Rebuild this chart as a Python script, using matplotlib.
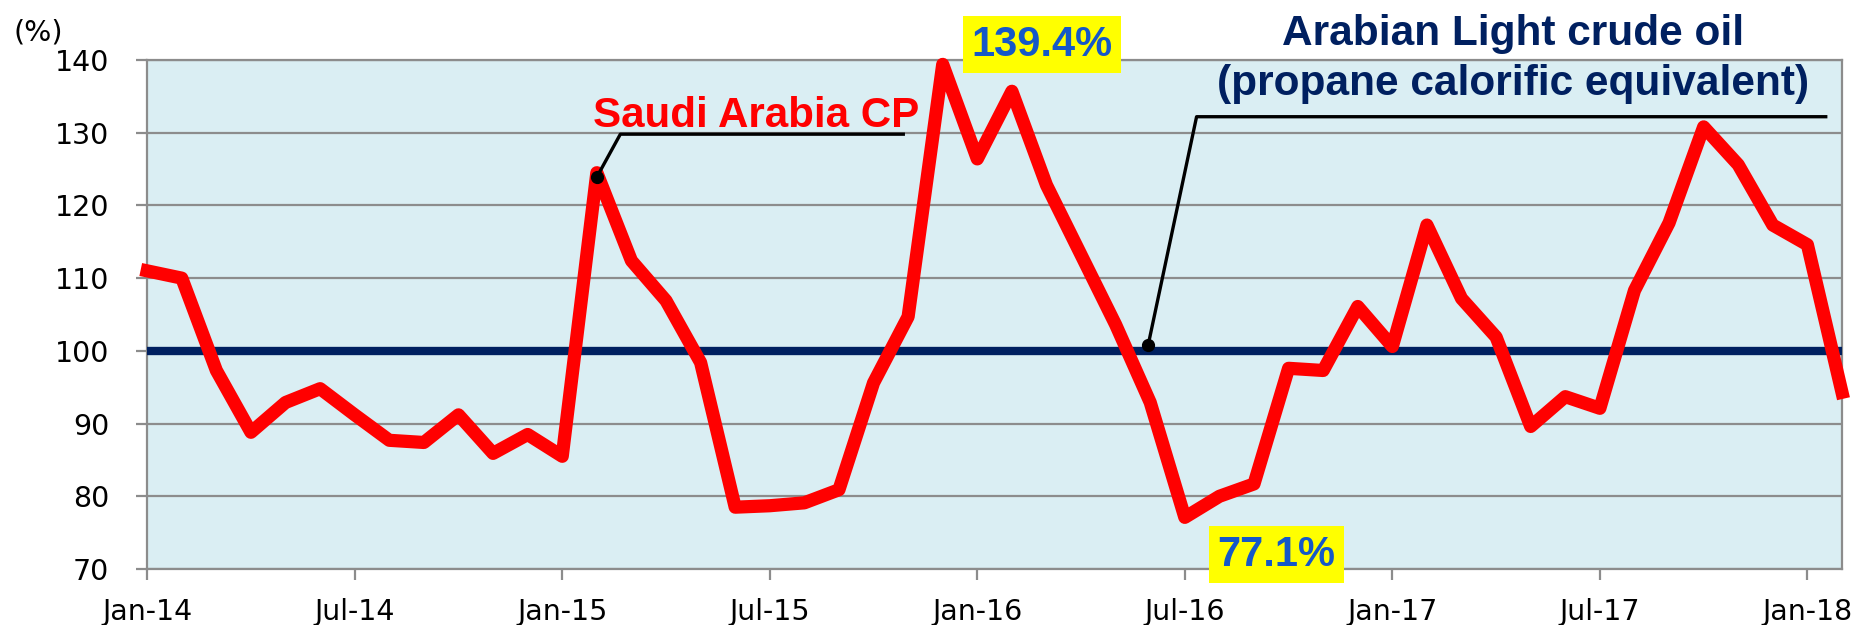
import numpy as np
import matplotlib.pyplot as plt

# monthly ratio of Saudi CP to Arabian Light (propane calorific equivalent), Jan-14 .. Feb-18
cp_ratio = [111.0, 110.0, 97.3, 88.8, 92.9, 94.8, 91.2, 87.7, 87.4, 91.2, 85.9, 88.5,
            85.5, 124.5, 112.4, 106.9, 98.4, 78.5, 78.7, 79.1, 80.9, 95.6, 104.7, 139.4,
            126.4, 135.7, 122.8, 113.2, 103.6, 92.9, 77.1, 80.0, 81.7, 97.6, 97.3, 106.1,
            100.6, 117.3, 107.2, 101.9, 89.6, 93.7, 92.1, 108.3, 117.6, 130.8, 125.6, 117.3,
            114.6, 94.3]
crude_ratio = [100.0] * len(cp_ratio)
tick_pos = [0, 6, 12, 18, 24, 30, 36, 42, 48]
tick_labels = ['Jan-14', 'Jul-14', 'Jan-15', 'Jul-15', 'Jan-16',
               'Jul-16', 'Jan-17', 'Jul-17', 'Jan-18']
yticks = [70, 80, 90, 100, 110, 120, 130, 140]

RED = '#ff0000'
NAVY = '#002060'
BLUE = '#1558c8'
GRID = '#8c8c8c'
BOLD = ['Liberation Sans', 'DejaVu Sans']

fig = plt.figure(figsize=(18.63, 6.25), dpi=100)
ax = fig.add_axes([0.07901, 0.0896, 0.90971, 0.8144])
ax.set_facecolor('#daeef3')

x = np.arange(len(cp_ratio))
ax.plot(x, crude_ratio, color=NAVY, lw=6, zorder=2.6)
ax.plot(x, cp_ratio, color=RED, lw=9.5, solid_joinstyle='round', zorder=2.7, clip_on=False)

ax.set_xlim(0, 49)
ax.set_ylim(70, 140)
ax.set_xticks(tick_pos)
ax.set_xticklabels(tick_labels)
ax.set_yticks(yticks)
ax.yaxis.grid(True, color=GRID, lw=1.6)
ax.set_axisbelow(True)
for s in ax.spines.values():
    s.set_color(GRID)
    s.set_linewidth(1.6)
ax.tick_params(axis='both', direction='out', length=8, width=1.6, color=GRID,
               labelsize=20.5, labelcolor='black')
ax.tick_params(axis='x', pad=13)
ax.tick_params(axis='y', pad=19.5)

fig.text(13 / 1863, 1 - 32 / 625, '(%)', fontsize=20.5, ha='left', va='center')

# series labels with leader lines
ax.text(12.9, 130.74, 'Saudi Arabia CP', color=RED, fontsize=30.3, fontweight='bold',
        family=BOLD, ha='left', va='baseline', zorder=4)
ax.plot([13, 13.68, 21.86], [123.9, 129.8, 129.8], color='black', lw=2.4, zorder=3.5)
ax.plot([13], [123.9], 'o', color='black', ms=8.5, zorder=3.5)

ax.text(39.48, 142.06, 'Arabian Light crude oil', color=NAVY, fontsize=30.5,
        fontweight='bold', family=BOLD, ha='center', va='baseline', zorder=4)
ax.text(39.48, 135.19, '(propane calorific equivalent)', color=NAVY, fontsize=30.5,
        fontweight='bold', family=BOLD, ha='center', va='baseline', zorder=4)
ax.plot([28.94, 30.34, 48.53], [100.8, 132.2, 132.2], color='black', lw=2.4,
        zorder=3.5, clip_on=False)
ax.plot([28.94], [100.8], 'o', color='black', ms=8.5, zorder=3.5)

# peak / trough callouts
box = dict(boxstyle='square,pad=0.2', facecolor='#ffff00', edgecolor='none')
ax.text(25.88, 140.59, '139.4%', color=BLUE, fontsize=30, fontweight='bold', family=BOLD,
        ha='center', va='baseline', bbox=box, zorder=5)
ax.text(32.65, 70.44, '77.1%', color=BLUE, fontsize=30, fontweight='bold', family=BOLD,
        ha='center', va='baseline', bbox=box, zorder=5)

fig.savefig('out.png', dpi=100)
